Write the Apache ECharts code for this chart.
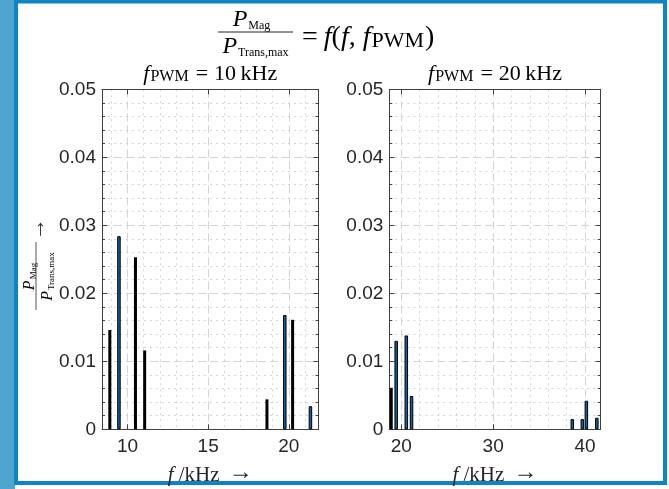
<!DOCTYPE html>
<html>
<head>
<meta charset="utf-8">
<script src="https://cdn.jsdelivr.net/npm/echarts@6/dist/echarts.min.js"></script>
<style>
  html, body { margin: 0; padding: 0; background: #fff; }
  #chart { width: 669px; height: 489px; }
</style>
</head>
<body>
<div id="chart"></div>
<script>
// harmonic spectrum, f_PWM = 10 kHz
var freqBlue10 = [9.47, 19.75, 21.34];
var magBlue10 = [0.0284, 0.0168, 0.0034];
var freqBlack10 = [8.92, 10.51, 11.08, 18.66, 20.25];
var magBlack10 = [0.0146, 0.0253, 0.0116, 0.0044, 0.0161];

// harmonic spectrum, f_PWM = 20 kHz
var freqBlue20 = [19.45, 20.55, 21.12, 38.61, 39.70, 40.14, 41.28];
var magBlue20 = [0.0130, 0.0138, 0.0049, 0.0015, 0.0015, 0.0042, 0.0017];
var freqBlack20 = [18.94];
var magBlack20 = [0.0061];

// axis limits and tick steps
var xLimits = [[8.42, 21.84], [18.7, 41.7]];
var xTickStep = [5, 10];
var yTicks = [0, 0.01, 0.02, 0.03, 0.04, 0.05];
var panelTitles = ['10', '20'];

var SERIF = '"Liberation Serif", "DejaVu Serif", serif';
var SANS = '"Liberation Sans", Arial, sans-serif';
var TXT = '#262626';
var AXIS = '#404040';
var GRID = '#d4d4d4';

function zip(xs, ys) {
  return xs.map(function (x, i) { return [x, ys[i]]; });
}

function mathRich(size, subSize) {
  return {
    i: { fontFamily: SERIF, fontStyle: 'italic', fontSize: size, lineHeight: size + 4, verticalAlign: 'bottom', color: TXT },
    r: { fontFamily: SERIF, fontSize: size, lineHeight: size + 4, verticalAlign: 'bottom', color: TXT },
    e: { fontFamily: SERIF, fontSize: size, lineHeight: size + 4, verticalAlign: 'bottom', color: TXT, padding: [0, 6, 0, 6] },
    s: { fontFamily: SERIF, fontSize: subSize, lineHeight: subSize, verticalAlign: 'bottom', color: TXT, padding: [0, 1, 0, 1] }
  };
}

var panels = [
  { left: 102, width: 216.5 },
  { left: 389.3, width: 211.4 }
];
var plotTop = 89.3, plotHeight = 340;

var grids = [], xAxes = [], yAxes = [], series = [];
panels.forEach(function (p, k) {
  grids.push({ left: p.left, top: plotTop, width: p.width, height: plotHeight,
    outerBoundsMode: 'none', containLabel: false, show: true, backgroundColor: '#fff', borderWidth: 0 });
  var step = xTickStep[k];
  xAxes.push({
    type: 'value', gridIndex: k, position: 'bottom',
    min: xLimits[k][0], max: xLimits[k][1], splitNumber: 3,
    axisLine: { show: true, onZero: false, lineStyle: { color: AXIS, width: 1 } },
    axisTick: { show: true, inside: true, length: 5, lineStyle: { color: AXIS } },
    minorTick: { show: false, splitNumber: 5 },
    axisLabel: {
      show: true, margin: 8, fontFamily: SANS, fontSize: 19, color: TXT,
      showMinLabel: true, showMaxLabel: true, hideOverlap: false,
      formatter: function (v) {
        var r = Math.round(v / step) * step;
        return Math.abs(v - r) < 1e-6 ? String(r) : '';
      }
    },
    splitLine: { show: true, lineStyle: { color: GRID, type: [8, 4], width: 1 } },
    minorSplitLine: { show: true, lineStyle: { color: GRID, type: [2, 4], width: 1 } },
    name: '{i|f}{r| /kHz }{a|→}',
    nameLocation: 'middle', nameGap: 26,
    nameTextStyle: { rich: Object.assign(mathRich(21, 13), {
      a: { fontFamily: SERIF, fontSize: 24, lineHeight: 25, verticalAlign: 'bottom', color: TXT, padding: [0, 0, 1, 4] }
    }) }
  });
  xAxes.push({
    type: 'value', gridIndex: k, position: 'top',
    min: xLimits[k][0], max: xLimits[k][1], splitNumber: 3,
    axisLine: { show: true, onZero: false, lineStyle: { color: AXIS, width: 1 } },
    axisTick: { show: true, inside: true, length: 5, lineStyle: { color: AXIS } },
    axisLabel: { show: false },
    splitLine: { show: false }
  });
  yAxes.push({
    type: 'value', gridIndex: k, position: 'left',
    min: yTicks[0], max: yTicks[yTicks.length - 1], interval: yTicks[1] - yTicks[0],
    axisLine: { show: true, onZero: false, lineStyle: { color: AXIS, width: 1 } },
    axisTick: { show: true, inside: true, length: 5, lineStyle: { color: AXIS } },
    minorTick: { show: true, splitNumber: 5, length: 3, lineStyle: { color: AXIS } },
    axisLabel: { show: true, margin: 6, fontFamily: SANS, fontSize: 19, color: TXT },
    splitLine: { show: true, lineStyle: { color: GRID, type: [8, 4], width: 1 } },
    minorSplitLine: { show: true, lineStyle: { color: GRID, type: [2, 4], width: 1 } }
  });
  yAxes.push({
    type: 'value', gridIndex: k, position: 'right',
    min: yTicks[0], max: yTicks[yTicks.length - 1], interval: yTicks[1] - yTicks[0],
    axisLine: { show: true, onZero: false, lineStyle: { color: AXIS, width: 1 } },
    axisTick: { show: true, inside: true, length: 5, lineStyle: { color: AXIS } },
    minorTick: { show: true, splitNumber: 5, length: 3, lineStyle: { color: AXIS } },
    axisLabel: { show: false },
    splitLine: { show: false }
  });
});

var blueData = [zip(freqBlue10, magBlue10), zip(freqBlue20, magBlue20)];
var blackData = [zip(freqBlack10, magBlack10), zip(freqBlack20, magBlack20)];
[0, 1].forEach(function (k) {
  series.push({
    type: 'bar', xAxisIndex: 2 * k, yAxisIndex: 2 * k,
    data: blackData[k], barWidth: 3, barGap: '-100%', silent: true,
    itemStyle: { color: '#000' }
  });
  series.push({
    type: 'bar', xAxisIndex: 2 * k, yAxisIndex: 2 * k,
    data: blueData[k], barWidth: 3.5, barGap: '-100%', silent: true,
    itemStyle: { color: '#125fa3', borderColor: '#000', borderWidth: 1 }
  });
});

var panelCenters = panels.map(function (p) { return p.left + p.width / 2; });

var graphic = [
  // window frame
  { type: 'rect', shape: { x: 0, y: 0, width: 15, height: 489 }, style: { fill: '#4ea5cd' } },
  { type: 'rect', shape: { x: 16, y: 1.5, width: 649, height: 481.5 },
    style: { fill: 'none', stroke: '#0f84c2', lineWidth: 4 } },
  // main title: P_Mag / P_Trans,max = f(f, f_PWM)
  { type: 'text', x: 252, y: 18, style: { text: '{i|P}{s|Mag}', rich: mathRich(24, 12), align: 'center', verticalAlign: 'middle' } },
  { type: 'line', shape: { x1: 218, y1: 32, x2: 293, y2: 32 }, style: { stroke: TXT, lineWidth: 1 } },
  { type: 'text', x: 256, y: 45, style: { text: '{i|P}{s|Trans,max}', rich: mathRich(24, 12), align: 'center', verticalAlign: 'middle' } },
  { type: 'text', x: 296, y: 36, style: { text: '{e|=}{i|f}{r|(}{i|f}{r|, }{i|f}{s|PWM}{r|)}', rich: mathRich(28, 22), align: 'left', verticalAlign: 'middle' } },
  // y axis name (rotated)
  { type: 'group', x: 36, y: 276, rotation: Math.PI / 2, children: [
    { type: 'text', x: 0, y: -8, style: { text: '{i|P}{s|Mag}', rich: mathRich(16, 9), align: 'center', verticalAlign: 'middle' } },
    { type: 'line', shape: { x1: -34, y1: 0, x2: 34, y2: 0 }, style: { stroke: TXT, lineWidth: 0.8 } },
    { type: 'text', x: 0, y: 10, style: { text: '{i|P}{s|Trans,max}', rich: mathRich(16, 9), align: 'center', verticalAlign: 'middle' } },
    { type: 'text', x: 47, y: 2, style: { text: '→', fontFamily: SERIF, fontSize: 22, fill: TXT, align: 'center', verticalAlign: 'middle' } }
  ] }
];
panelTitles.forEach(function (t, k) {
  graphic.push({ type: 'text', x: panelCenters[k], y: 72,
    style: { text: '{i|f}{s|PWM}{e|=}{r|' + t + '\u2009kHz}', rich: mathRich(22, 16), align: 'center', verticalAlign: 'middle' } });
});

var chart = echarts.init(document.getElementById('chart'), null, { renderer: 'canvas' });
chart.setOption({
  animation: false,
  backgroundColor: '#fff',
  grid: grids,
  xAxis: xAxes,
  yAxis: yAxes,
  series: series,
  graphic: graphic
});
</script>
</body>
</html>
